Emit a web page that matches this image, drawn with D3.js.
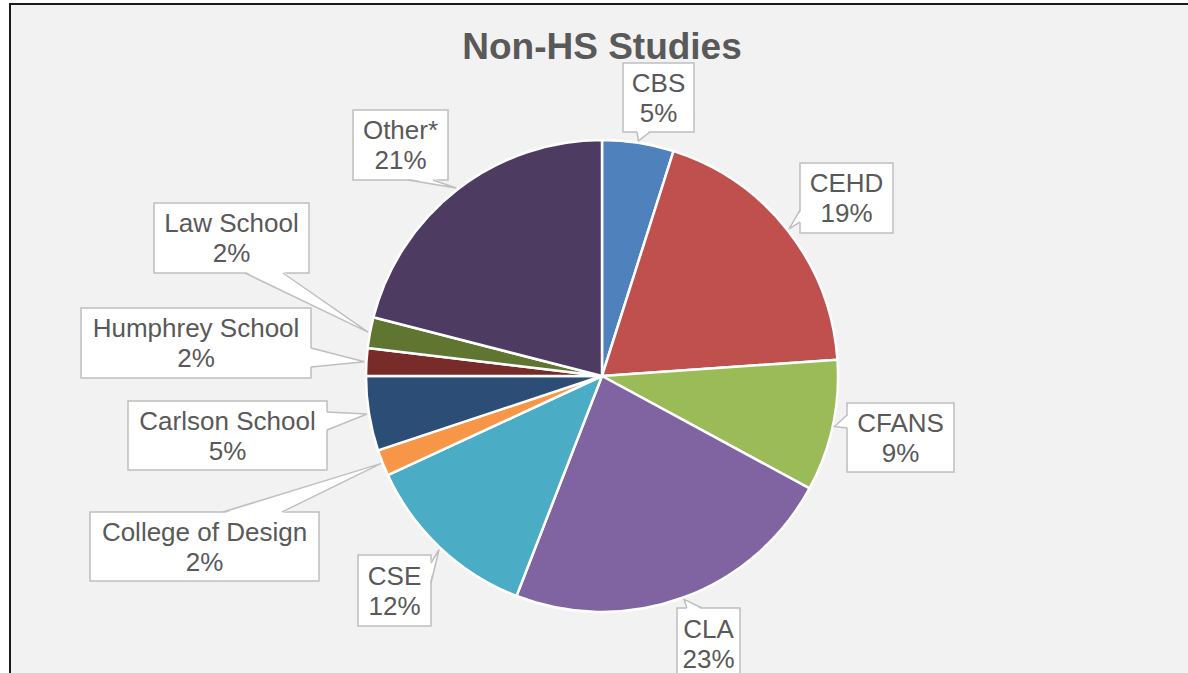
<!DOCTYPE html>
<html>
<head>
<meta charset="utf-8">
<script src="https://cdn.jsdelivr.net/npm/d3@7/dist/d3.min.js"></script>
<style>
html,body{margin:0;padding:0;background:#fff;}
svg{display:block;}
</style>
</head>
<body>
<svg id="chart" width="1188" height="673"></svg>
<script>
// ---- data ----
const categories = ["CBS","CEHD","CFANS","CLA","CSE","College of Design","Carlson School","Humphrey School","Law School","Other*"];
const values = [4.9, 19.0, 9.0, 23.0, 12.2, 1.8, 5.1, 1.9, 2.1, 21.0];
const percentLabels = ["5%","19%","9%","23%","12%","2%","5%","2%","2%","21%"];
const colors = ["#4F81BD","#C0504D","#9BBB59","#8064A2","#4BACC6","#F79646","#2C4D75","#772C2A","#5F7530","#4D3B62"];
const title = "Non-HS Studies";

// ---- layout (label boxes: x, y, w, h, side of pointer, base start/end) ----
const labelLayout = [
  {x:623, y:63,  w:71,  h:69, side:"bottom", b0:637, b1:650},
  {x:800, y:163, w:93,  h:70, side:"left",   b0:210, b1:222},
  {x:847, y:403, w:107, h:69, side:"left",   b0:415, b1:428},
  {x:677, y:608, w:63,  h:72, side:"top",    b0:687, b1:702},
  {x:358, y:555, w:73,  h:71, side:"right",  b0:563, b1:583},
  {x:90,  y:512, w:229, h:69, side:"top",    b0:223, b1:282},
  {x:128, y:401, w:199, h:69, side:"right",  b0:412, b1:430},
  {x:81,  y:308, w:230, h:70, side:"right",  b0:348, b1:367},
  {x:154, y:203, w:155, h:70, side:"bottom", b0:245, b1:283},
  {x:353, y:110, w:95,  h:70, side:"bottom", b0:408, b1:433}
];

const W = 1188, H = 673;
const cx = 602, cy = 376, R = 236;
const svg = d3.select("#chart");

// chart area background + border
svg.append("rect").attr("x",0).attr("y",0).attr("width",W).attr("height",H).attr("fill","#ffffff");
svg.append("rect").attr("x",10).attr("y",4).attr("width",W+20).attr("height",H+20)
  .attr("fill","#F2F2F2").attr("stroke","#1a1a1a").attr("stroke-width",2);

// title
svg.append("text").attr("x",602).attr("y",59).attr("text-anchor","middle")
  .attr("font-family","Liberation Sans, Arial, sans-serif").attr("font-weight","bold")
  .attr("font-size",37).attr("fill","#595959").text(title);

const data = categories.map((c,i)=>({name:c, value:values[i], pct:percentLabels[i], color:colors[i], layout:labelLayout[i]}));

const pie = d3.pie().value(d=>d.value).sort(null);
const arcs = pie(data);
const arc = d3.arc().innerRadius(0).outerRadius(R);
const tipArc = d3.arc().innerRadius(R+2).outerRadius(R+2);

const g = svg.append("g").attr("transform",`translate(${cx},${cy})`);
g.selectAll("path.slice").data(arcs).enter().append("path")
  .attr("class","slice")
  .attr("d",arc)
  .attr("fill",d=>d.data.color)
  .attr("stroke","#ffffff").attr("stroke-width",2.5).attr("stroke-linejoin","round");

// callout labels
const lab = svg.append("g");
arcs.forEach(a=>{
  const L = a.data.layout;
  const c = tipArc.centroid(a);
  const tx = cx + c[0], ty = cy + c[1];
  let p0, p1;
  if (L.side==="bottom"){ p0=[L.b0,L.y+L.h]; p1=[L.b1,L.y+L.h]; }
  else if (L.side==="top"){ p0=[L.b0,L.y]; p1=[L.b1,L.y]; }
  else if (L.side==="left"){ p0=[L.x,L.b0]; p1=[L.x,L.b1]; }
  else { p0=[L.x+L.w,L.b0]; p1=[L.x+L.w,L.b1]; }
  const gg = lab.append("g");
  gg.append("rect").attr("x",L.x).attr("y",L.y).attr("width",L.w).attr("height",L.h)
    .attr("fill","#ffffff").attr("stroke","#BFBFBF").attr("stroke-width",1.5);
  let q0=p0.slice(), q1=p1.slice();
  if (L.side==="bottom"){ q0[1]-=1.5; q1[1]-=1.5; }
  if (L.side==="top"){ q0[1]+=1.5; q1[1]+=1.5; }
  if (L.side==="left"){ q0[0]+=1.5; q1[0]+=1.5; }
  if (L.side==="right"){ q0[0]-=1.5; q1[0]-=1.5; }
  gg.append("path").attr("d",`M${q0[0]},${q0[1]}L${tx},${ty}L${q1[0]},${q1[1]}Z`)
    .attr("fill","#ffffff").attr("stroke","none");
  gg.append("path").attr("d",`M${p0[0]},${p0[1]}L${tx},${ty}L${p1[0]},${p1[1]}`)
    .attr("fill","none").attr("stroke","#BFBFBF").attr("stroke-width",1.5).attr("stroke-linejoin","miter");
  const mx = L.x + L.w/2, my = L.y + L.h/2;
  const t = gg.append("text").attr("text-anchor","middle")
    .attr("font-family","Liberation Sans, Arial, sans-serif").attr("font-size",26).attr("fill","#595959");
  t.append("tspan").attr("x",mx).attr("y",my-15+9).text(a.data.name);
  t.append("tspan").attr("x",mx).attr("y",my+15+9).text(a.data.pct);
});
</script>
</body>
</html>
